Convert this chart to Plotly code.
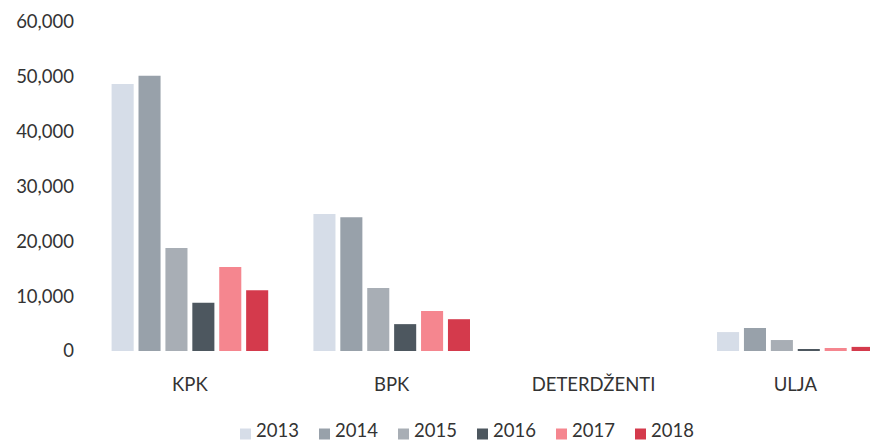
import plotly.graph_objects as go

categories = ["KPK", "BPK", "DETERDŽENTI", "ULJA"]
years = ["2013", "2014", "2015", "2016", "2017", "2018"]
values = {
    "2013": [48700, 25000, 0, 3450],
    "2014": [50200, 24400, 0, 4200],
    "2015": [18800, 11500, 0, 2000],
    "2016": [8800, 4900, 0, 200],
    "2017": [15300, 7300, 0, 550],
    "2018": [11100, 5800, 0, 750],
}
colors = {
    "2013": "#d6dde8",
    "2014": "#98a1aa",
    "2015": "#a8aeb5",
    "2016": "#4d575f",
    "2017": "#f5868f",
    "2018": "#d43a4c",
}
y_ticks = [0, 10000, 20000, 30000, 40000, 50000, 60000]

W, H = 870, 443
ML, MR, MT, MB = 89, 0, 22, 92
PW, PH = W - ML - MR, H - MT - MB

fig = go.Figure()
for yr in years:
    fig.add_trace(go.Bar(
        name=yr, x=categories, y=values[yr],
        marker=dict(color=colors[yr], line=dict(width=0)),
        showlegend=False,
    ))

font = dict(family="Lato, 'Open Sans', sans-serif", size=18.5, color="#333333")


def px_x(px):
    return (px - ML) / PW


def px_y(py):
    return (H - MB - py) / PH


# compact horizontal key below the categories
key_start, key_step, key_box, key_cy, key_text_bottom = 240, 79, 11, 434, 442
shapes, annotations = [], []
for i, yr in enumerate(years):
    x0 = key_start + i * key_step
    shapes.append(dict(
        type="rect", xref="paper", yref="paper",
        x0=px_x(x0), x1=px_x(x0 + key_box),
        y0=px_y(key_cy + key_box / 2), y1=px_y(key_cy - key_box / 2),
        fillcolor=colors[yr], line=dict(width=0),
    ))
    annotations.append(dict(
        text=yr, xref="paper", yref="paper",
        x=px_x(x0 + key_box + 4), y=px_y(key_text_bottom),
        xanchor="left", yanchor="bottom", showarrow=False, font=font,
        borderpad=0,
    ))

fig.update_layout(
    width=W, height=H,
    margin=dict(l=ML, r=MR, t=MT, b=MB),
    paper_bgcolor="white", plot_bgcolor="white",
    barmode="group", bargap=0.2, bargroupgap=0.18,
    font=font,
    showlegend=False,
    shapes=shapes,
    annotations=annotations,
    xaxis=dict(range=[-0.5, 3.37], showgrid=False, showline=False, zeroline=False,
               ticks="", ticklabelstandoff=20, tickfont=font, automargin=False),
    yaxis=dict(range=[0, 60000], tickvals=y_ticks, tickformat=",d", showgrid=False,
               showline=False, zeroline=False, ticks="", ticklabelstandoff=14,
               tickfont=font, automargin=False),
)

fig.write_html("out.html")
